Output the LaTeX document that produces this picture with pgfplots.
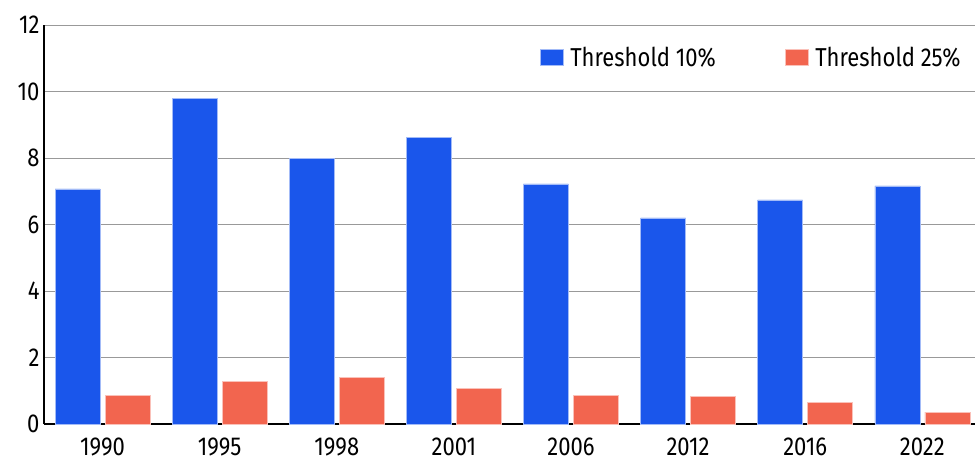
\documentclass[border=0pt]{standalone}
\usepackage{pgfplots}
\pgfplotsset{compat=1.18}
\usepackage{fontspec}
\setmainfont{Fira Sans}[FakeStretch=0.85]
\definecolor{cblue}{HTML}{1A56EB}
\definecolor{cred}{HTML}{F2654F}
\begin{document}
\begin{tikzpicture}
\path[use as bounding box] (-44bp,-37bp) rectangle (933bp,424bp);
\begin{axis}[
  scale only axis,
  width=931bp, height=399bp,
  ybar=5bp, bar width=45bp,
  xmin=-0.5, xmax=7.45,
  ymin=0, ymax=12,
  ytick={0,2,...,12},
  xtick={0,...,7},
  xticklabels={1990,1995,1998,2001,2006,2012,2016,2022},
  axis x line*=bottom, axis y line*=left,
  axis line style={line width=1.6bp, black, -},
  ymajorgrids, grid style={gray!80, line width=0.8bp},
  major tick length=0pt,
  tick label style={font=\fontsize{26}{31}\selectfont},
  /pgf/number format/assume math mode=true,
  yticklabel style={xshift=-1bp},
  xticklabel style={yshift=-10bp},
  legend style={draw=none, at={(0.99,0.955)}, anchor=north east,
    font=\fontsize{26}{31}\selectfont, legend columns=2,
    /tikz/every odd column/.append style={column sep=5bp},
    /tikz/every even column/.append style={column sep=67bp}},
  legend image code/.code={\fill[#1] (0bp,-8bp) rectangle (23bp,8bp);},
]
\addplot[fill=cblue, draw=cblue!40!white, line width=0.5bp] coordinates {(0,7.07) (1,9.80) (2,7.99) (3,8.63) (4,7.22) (5,6.20) (6,6.74) (7,7.16)};
\addplot[fill=cred, draw=cred!40!white, line width=0.5bp] coordinates {(0,0.87) (1,1.29) (2,1.41) (3,1.08) (4,0.87) (5,0.84) (6,0.66) (7,0.36)};
\legend{Threshold 10\%, Threshold 25\%}
\end{axis}
\end{tikzpicture}
\end{document}
